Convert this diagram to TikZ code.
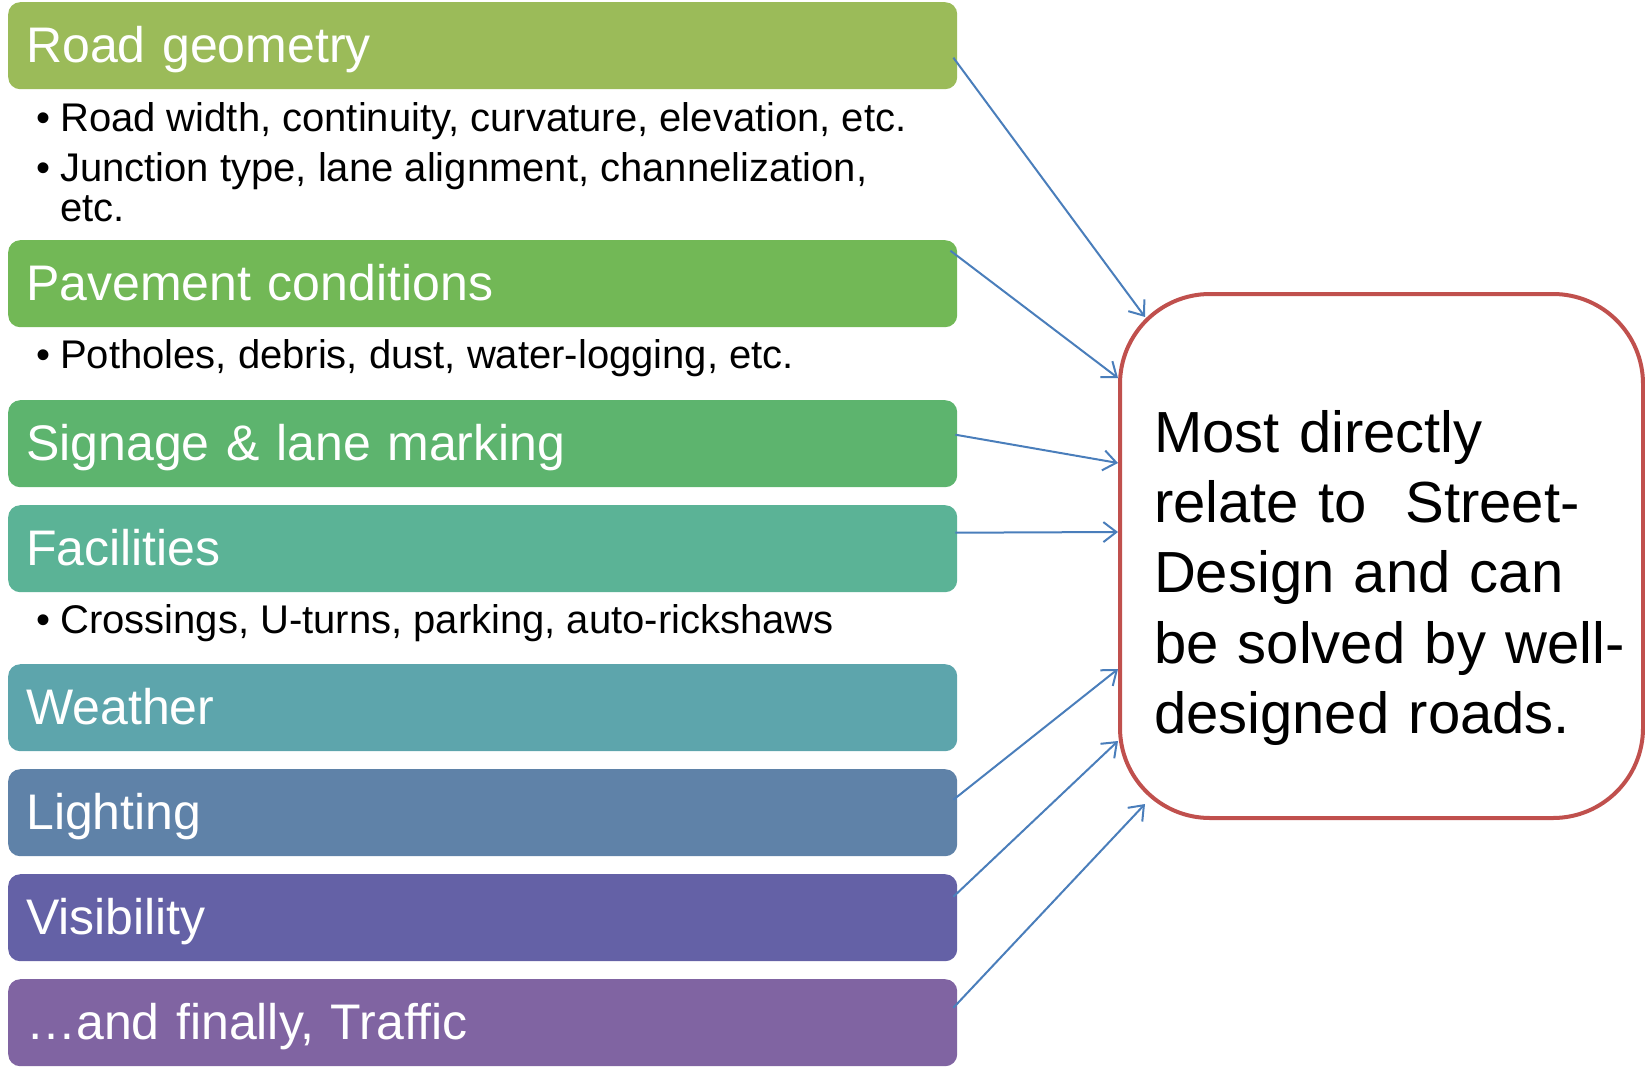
\documentclass[tikz,border=0pt]{standalone}
\usepackage{fontspec}
\setmainfont{Liberation Sans}
\usetikzlibrary{arrows.meta,calc}
\definecolor{geomcol}{HTML}{9BBB59}
\definecolor{pavecol}{HTML}{72B856}
\definecolor{signcol}{HTML}{5DB46E}
\definecolor{faciltcol}{HTML}{5BB396}
\definecolor{weathcol}{HTML}{5DA5AC}
\definecolor{lightcol}{HTML}{5F82A8}
\definecolor{visicol}{HTML}{6461A6}
\definecolor{trafcol}{HTML}{8064A2}
\definecolor{goalred}{HTML}{C0504D}
\definecolor{linkblue}{HTML}{4A7EBB}
\tikzset{
  band/.style={rectangle, rounded corners=12pt, anchor=north west, minimum height=87pt,
    text width=913pt, inner xsep=18pt, inner ysep=0pt, text height=34pt, text depth=0pt,
    align=left, text=white, font=\fontsize{50}{60}\selectfont},
  note/.style={anchor=base west, inner sep=0pt, font=\fontsize{40}{48}\selectfont},
  goalbox/.style={rectangle, rounded corners=90pt, draw=goalred, line width=4pt, fill=white,
    minimum height=524pt, text width=455pt, inner xsep=34pt, align=left,
    font=\fontsize{58}{70.25}\selectfont},
  link/.style={-{Straight Barb[length=13pt,width=20pt]}, draw=linkblue, line width=2pt},
}
\begin{document}
\begin{tikzpicture}[x=1pt, y=-1pt]
    \useasboundingbox (0,0) rectangle (1645,1068);
    \node[band, fill=geomcol] (geom) at (8,2) {Road geometry};
    \node[note] (widthnote) at (36,131) {\textbullet\hspace{10pt}Road width, continuity, curvature, elevation, etc.};
    \node[note] (juncnote) at (36,181) {\textbullet\hspace{10pt}Junction type, lane alignment, channelization,};
    \node[note] (juncmore) at (36,221) {\phantom{\textbullet}\hspace{10pt}etc.};
    \node[band, fill=pavecol] (pave) at (8,240) {Pavement conditions};
    \node[note] (potnote) at (36,368) {\textbullet\hspace{10pt}Potholes, debris, dust, water-logging, etc.};
    \node[band, fill=signcol] (sign) at (8,400) {Signage \& lane marking};
    \node[band, fill=faciltcol] (facil) at (8,505) {Facilities};
    \node[note] (crossnote) at (36,633) {\textbullet\hspace{10pt}Crossings, U-turns, parking, auto-rickshaws};
    \node[band, fill=weathcol] (weath) at (8,664) {Weather};
    \node[band, fill=lightcol] (light) at (8,769) {Lighting};
    \node[band, fill=visicol] (visi) at (8,874) {Visibility};
    \node[band, fill=trafcol] (traf) at (8,979) {…and finally, Traffic};
    \node[goalbox] (goal) at (1381.5,556) {\rule{0pt}{86pt}Most directly\\relate to\ \ Street-\\Design and can\\\mbox{be solved by well-}\\designed roads.};
    \draw[link] ($(geom.east)+(-4,12)$) -- ($(goal.north west)+(27,25)$);
    \draw[link] ($(pave.east)+(-7,-33)$) -- ($(goal.west)+(0,-178)$);
    \draw[link] ($(sign.east)+(-2,-9)$) -- ($(goal.west)+(0,-93)$);
    \draw[link] ($(facil.east)+(-2,-16)$) -- ($(goal.west)+(0,-24)$);
    \draw[link] ($(light.east)+(-4,-13)$) -- ($(goal.west)+(0,113)$);
    \draw[link] ($(visi.east)+(-4,-21)$) -- ($(goal.west)+(0,185)$);
    \draw[link] ($(traf.east)+(-4,-15)$) -- ($(goal.south west)+(27,-16)$);
\end{tikzpicture}
\end{document}
